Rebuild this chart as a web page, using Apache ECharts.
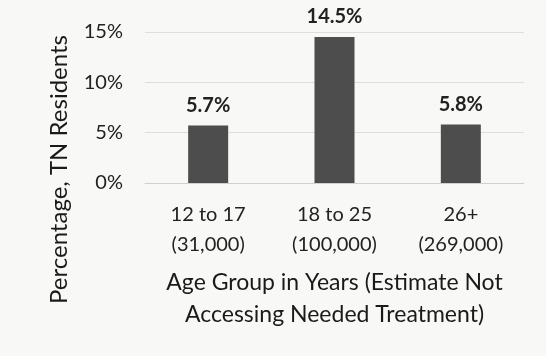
<!DOCTYPE html>
<html>
<head>
<meta charset="utf-8">
<script src="https://cdn.jsdelivr.net/npm/echarts@6/dist/echarts.min.js"></script>
<style>
  html, body { margin: 0; padding: 0; background: #f8f8f6; }
  #chart { width: 546px; height: 356px; }
</style>
</head>
<body>
<div id="chart"></div>
<script>
// 数据
const categories = ["12 to 17\n(31,000)", "18 to 25\n(100,000)", "26+\n(269,000)"];
const percentValues = [5.7, 14.5, 5.8];
const yTicks = [0, 5, 10, 15];

const chart = echarts.init(document.getElementById("chart"));

const font = "Lato, 'Open Sans', sans-serif";

chart.setOption({
  backgroundColor: "#f8f8f6",
  grid: {
    left: 145,
    right: 22,
    top: 32,
    bottom: 173,
    containLabel: false
  },
  xAxis: {
    type: "category",
    data: categories,
    axisTick: { show: false },
    axisLine: { lineStyle: { color: "#d0d0d0" } },
    axisLabel: {
      color: "#222",
      fontFamily: font,
      fontSize: 20,
      lineHeight: 30,
      margin: 17
    },
    name: "Age Group in Years (Estimate Not\nAccessing Needed Treatment)",
    nameLocation: "middle",
    nameGap: 84,
    nameTextStyle: {
      color: "#1a1a1a",
      fontFamily: font,
      fontSize: 23,
      lineHeight: 32
    }
  },
  yAxis: {
    type: "value",
    min: yTicks[0],
    max: yTicks[yTicks.length - 1],
    interval: 5,
    axisLine: { show: false },
    axisTick: { show: false },
    splitLine: { lineStyle: { color: "#dedede" } },
    axisLabel: {
      color: "#222",
      fontFamily: font,
      fontSize: 20,
      margin: 22,
      formatter: v => v + "%"
    }
  },
  graphic: [{
    type: "text",
    left: 47,
    top: 35,
    rotation: Math.PI / 2,
    style: {
      text: "Percentage, TN Residents",
      fill: "#1a1a1a",
      font: "24px " + font
    }
  }],
  series: [{
    type: "bar",
    data: percentValues,
    barWidth: 40,
    itemStyle: { color: "#4d4d4d" },
    label: {
      show: true,
      position: "top",
      distance: 10,
      color: "#222",
      fontFamily: font,
      fontSize: 20,
      fontWeight: "bold",
      formatter: p => p.value + "%"
    }
  }]
});

window.addEventListener("resize", () => chart.resize());
</script>
</body>
</html>
